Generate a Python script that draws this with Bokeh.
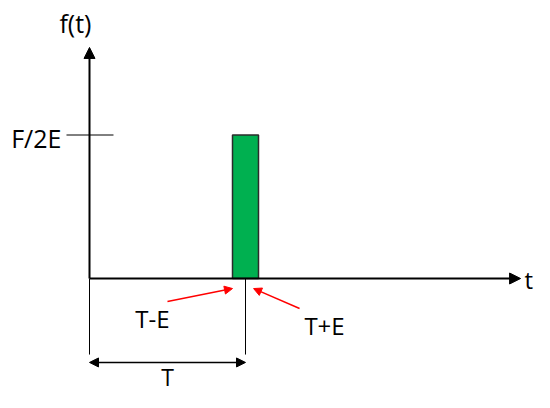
from bokeh.plotting import figure
from bokeh.models import Arrow, NormalHead, Range1d, ColumnDataSource
from bokeh.core.properties import value
from bokeh.embed import file_html
from bokeh.resources import INLINE

# ---- chart values ----
T = 6.0          # centre of the pulse
E = 0.5          # half width of the pulse
peak = 1.0       # pulse height F/2E
pulse_left = [T - E]
pulse_right = [T + E]
pulse_top = [peak]
label_texts = ["f(t)", "F/2E", "t", "T-E", "T+E", "T"]

# ---- layout (pixels per unit, origin) ----
W, H = 534, 392
ux, uy = 26.0, 143.5
ox, oy = 89.0, 278.0

p = figure(width=W, height=H, output_backend="svg", toolbar_location=None,
           x_range=Range1d(-ox / ux, (W - ox) / ux),
           y_range=Range1d(-(H - oy) / uy, oy / uy),
           min_border=0)
p.axis.visible = False
p.grid.visible = False
p.outline_line_color = None
p.background_fill_color = "white"
p.border_fill_color = "white"

# pulse
p.quad(left=pulse_left, right=pulse_right, bottom=[0], top=pulse_top,
       fill_color="#00B050", line_color="#2b2b2b", line_width=1.5)

# axes with arrows
t_end = 16.58
f_end = 1.61
p.add_layout(Arrow(end=NormalHead(size=11, fill_color="black", line_color="black"),
                   x_start=0, y_start=0, x_end=t_end, y_end=0,
                   line_color="black", line_width=2))
p.add_layout(Arrow(end=NormalHead(size=11, fill_color="black", line_color="black"),
                   x_start=0, y_start=0, x_end=0, y_end=f_end,
                   line_color="black", line_width=2))

# tick at F/2E
p.segment(x0=[-0.885], y0=[peak], x1=[0.923], y1=[peak], line_color="black", line_width=1)

# drop lines at 0 and T
drop = -0.53
p.segment(x0=[0, T], y0=[0, 0], x1=[0, T], y1=[drop, drop], line_color="black", line_width=1)

# double-headed arrow for T
ya = -0.585
p.add_layout(Arrow(start=NormalHead(size=9, fill_color="black", line_color="black"),
                   end=NormalHead(size=9, fill_color="black", line_color="black"),
                   x_start=0, y_start=ya, x_end=T, y_end=ya,
                   line_color="black", line_width=1.5))

# red pointer arrows
p.add_layout(Arrow(end=NormalHead(size=8, fill_color="red", line_color="red"),
                   x_start=T - 3.0, y_start=-0.16, x_end=T - E, y_end=-0.07,
                   line_color="red", line_width=1.5))
p.add_layout(Arrow(end=NormalHead(size=8, fill_color="red", line_color="red"),
                   x_start=T + 2.08, y_start=-0.209, x_end=T + 0.31, y_end=-0.07,
                   line_color="red", line_width=1.5))

# labels
lx = [-0.54, -1.08, 16.73, 2.42, 9.04, 3.0]
ly = [1.78, 0.98, -0.007, -0.279, -0.328, -0.683]
align = ["center", "right", "left", "center", "center", "center"]
sizes = ["25px", "25px", "24px", "24px", "24px", "23px"]
src = ColumnDataSource(dict(x=lx, y=ly, text=label_texts, align=align, size=sizes))
p.text(x="x", y="y", text="text", source=src, text_align="align",
       text_baseline="middle", text_font=value("Open Sans"),
       text_font_size="size", text_color="black")

open("out.html", "w").write(file_html(p, INLINE))
